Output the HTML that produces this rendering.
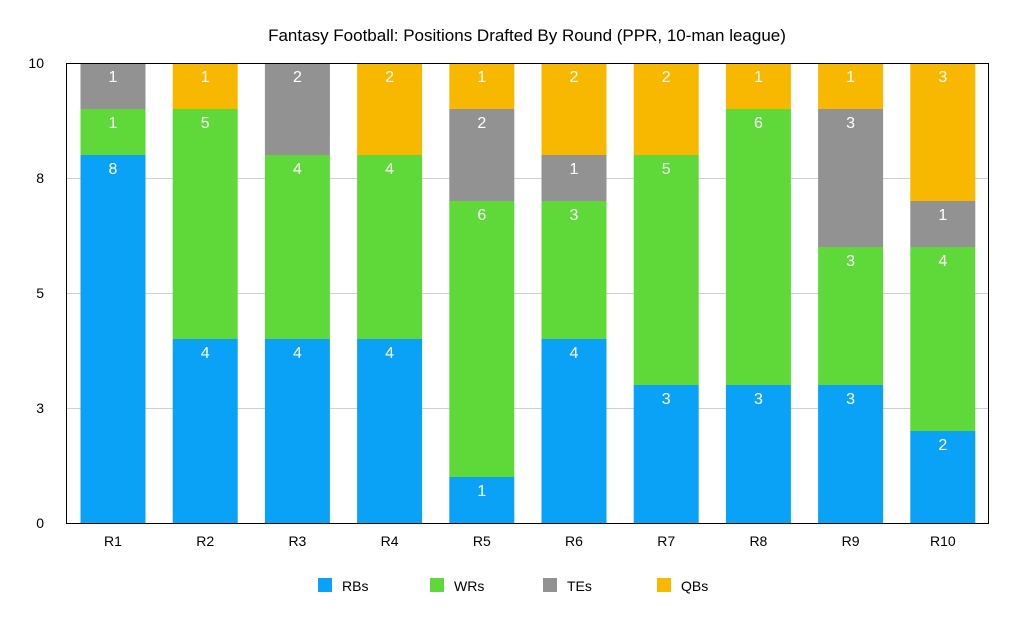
<!DOCTYPE html>
<html><head><meta charset="utf-8"><style>
html,body{margin:0;padding:0;background:#fff;}
svg{display:block;font-family:"Liberation Sans",Arial,sans-serif;}
</style></head><body>
<svg width="1023" height="628" viewBox="0 0 1023 628" xmlns="http://www.w3.org/2000/svg">
<rect width="1023" height="628" fill="#fff"/>
<text x="527" y="41" font-size="17" text-anchor="middle" fill="#000">Fantasy Football: Positions Drafted By Round (PPR, 10-man league)</text>
<g stroke="#d0d0d0" stroke-width="1">
<line x1="66" y1="178.5" x2="989" y2="178.5"/>
<line x1="66" y1="293.5" x2="989" y2="293.5"/>
<line x1="66" y1="408.5" x2="989" y2="408.5"/>
</g>
<g font-size="14" fill="#000" text-anchor="end">
<text x="44" y="528">0</text><text x="44" y="413">3</text><text x="44" y="298">5</text><text x="44" y="183">8</text><text x="44" y="68">10</text>
</g>
<g id="bars"></g>
<rect x="66.5" y="63.5" width="922" height="460" fill="none" stroke="#000" stroke-width="1"/>
<g font-size="14" fill="#000" text-anchor="middle" id="xl"></g>
<g font-size="14" fill="#000">
<rect x="318" y="578" width="14" height="14" fill="#0aa2f6"/><text x="342" y="591">RBs</text>
<rect x="430" y="578" width="14" height="14" fill="#5fd93a"/><text x="454" y="591">WRs</text>
<rect x="543" y="578" width="14" height="14" fill="#929292"/><text x="567" y="591">TEs</text>
<rect x="657" y="578" width="14" height="14" fill="#f8b800"/><text x="681" y="591">QBs</text>
</g>
<script>
var d=[[8,1,1,0],[4,5,0,1],[4,4,2,0],[4,4,0,2],[1,6,2,1],[4,3,1,2],[3,5,0,2],[3,6,0,1],[3,3,3,1],[2,4,1,3]];
var c=["#0aa2f6","#5fd93a","#929292","#f8b800"];
var ns="http://www.w3.org/2000/svg",g=document.getElementById("bars"),xl=document.getElementById("xl");
function el(t,a,p){var e=document.createElementNS(ns,t);for(var k in a)e.setAttribute(k,a[k]);p.appendChild(e);return e;}
d.forEach(function(r,i){var cx=113+i*92.2,y=523;
r.forEach(function(v,j){if(!v)return;var h=v*46;y-=h;
el("rect",{x:cx-32.5,y:y,width:65,height:h,fill:c[j]},g);
var t=el("text",{x:cx,y:y+19,"font-size":16,"text-anchor":"middle",fill:"#fff"},g);t.textContent=v;});
var t=el("text",{x:cx,y:546},xl);t.textContent="R"+(i+1);});
</script>
</svg>
</body></html>
